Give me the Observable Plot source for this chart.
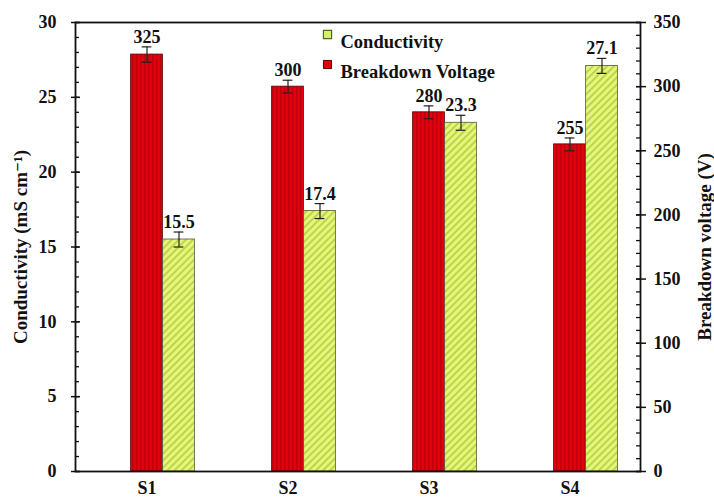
<!DOCTYPE html>
<html>
<head>
<meta charset="utf-8">
<script src="https://cdn.jsdelivr.net/npm/d3@7"></script>
<script src="https://cdn.jsdelivr.net/npm/@observablehq/plot@0.6"></script>
<style>
  body { margin: 0; background: #fff; }
  #chart svg { display: block; }
  #chart svg text { font-family: Liberation Serif, DejaVu Serif, serif; font-weight: bold; }
</style>
</head>
<body>
<div id="chart"></div>
<script>
// Samples and measured values
const samples = ["S1", "S2", "S3", "S4"];
const conductivity = [15.5, 17.4, 23.3, 27.1];        // mS cm⁻¹
const conductivityErr = [0.5, 0.5, 0.5, 0.5];
const voltage = [325, 300, 280, 255];                 // V
const voltageErr = [6, 5, 5, 5];
const conductivityTicks = [0, 5, 10, 15, 20, 25, 30];
const voltageTicks = [0, 50, 100, 150, 200, 250, 300, 350];

const W = 714, H = 501;
const mL = 75, mR = 74, mT = 22, mB = 30;
const band = (W - mL - mR) / samples.length;
const barW = 32;
const serif = "Liberation Serif, DejaVu Serif, serif";

// Breakdown voltage shares the plot with conductivity: 0–350 V maps onto 0–30
const ratio = 30 / 350;
const vy = v => v * ratio;

const rows = samples.map((s, i) => ({
  s, c: conductivity[i], ce: conductivityErr[i], v: voltage[i], ve: voltageErr[i]
}));

const minorLeft = d3.range(0, 31, 1);
const minorRight = d3.range(0, 351, 10).map(vy);

const txt = {fontFamily: serif, fontWeight: "bold"};

const svg = Plot.plot({
  width: W, height: H,
  marginLeft: mL, marginRight: mR, marginTop: mT, marginBottom: mB,
  style: {fontFamily: serif, fontSize: "18px", fontWeight: "bold", color: "#111", background: "#fff"},
  x: {domain: samples, type: "band", padding: 0, label: null},
  y: {domain: [0, 30], label: null},
  marks: [
    // breakdown voltage bars (red, vertical hatch)
    Plot.barY(rows, {
      x: "s", y: d => vy(d.v),
      fill: "url(#hatch-red)", stroke: "#5a0008", strokeWidth: 0.8,
      insetLeft: (band - barW) / 2, insetRight: (band - barW) / 2
    }),
    // conductivity bars (green, diagonal hatch)
    Plot.barY(rows, {
      x: "s", y: "c",
      fill: "url(#hatch-green)", stroke: "#55583a", strokeWidth: 0.8,
      insetLeft: band / 2 + barW / 2, insetRight: band / 2 - barW * 1.5
    }),
    // error bars
    Plot.ruleX(rows, {x: "s", y1: d => vy(d.v - d.ve), y2: d => vy(d.v + d.ve), stroke: "#222", strokeWidth: 1.2}),
    Plot.tickY(rows, {x: "s", y: d => vy(d.v + d.ve), stroke: "#222", strokeWidth: 1.2, insetLeft: band / 2 - 5, insetRight: band / 2 - 5}),
    Plot.tickY(rows, {x: "s", y: d => vy(d.v - d.ve), stroke: "#222", strokeWidth: 1.2, insetLeft: band / 2 - 5, insetRight: band / 2 - 5}),
    Plot.ruleX(rows, {x: "s", y1: d => d.c - d.ce, y2: d => d.c + d.ce, dx: barW, stroke: "#222", strokeWidth: 1.2}),
    Plot.tickY(rows, {x: "s", y: d => d.c + d.ce, dx: barW, stroke: "#222", strokeWidth: 1.2, insetLeft: band / 2 - 5, insetRight: band / 2 - 5}),
    Plot.tickY(rows, {x: "s", y: d => d.c - d.ce, dx: barW, stroke: "#222", strokeWidth: 1.2, insetLeft: band / 2 - 5, insetRight: band / 2 - 5}),
    // value labels
    Plot.text(rows, {x: "s", y: d => vy(d.v + d.ve), text: d => String(d.v), dy: -4, lineAnchor: "bottom", fontSize: 18, ...txt, fill: "#111"}),
    Plot.text(rows, {x: "s", y: d => d.c + d.ce, text: d => d.c.toFixed(1), dx: barW, dy: -4, lineAnchor: "bottom", fontSize: 18, ...txt, fill: "#111"}),
    // left axis: labels, major ticks crossing the spine, minor ticks inside
    Plot.axisY({anchor: "left", ticks: conductivityTicks, tickSize: 0, tickPadding: 19, label: null, fontSize: 18}),
    Plot.axisY({anchor: "left", ticks: conductivityTicks, tickSize: 9, dx: 5, tickFormat: () => "", label: null, strokeWidth: 1.5}),
    Plot.axisY({anchor: "left", ticks: minorLeft, tickSize: 4, dx: 4, tickFormat: () => "", label: null, strokeWidth: 1.3}),
    // right axis (breakdown voltage)
    Plot.axisY({anchor: "right", ticks: voltageTicks.map(vy), tickFormat: d => String(Math.round(d / ratio)), tickSize: 0, tickPadding: 13, label: null, fontSize: 18}),
    Plot.axisY({anchor: "right", ticks: voltageTicks.map(vy), tickSize: 10, dx: -5, tickFormat: () => "", label: null, strokeWidth: 1.5}),
    Plot.axisY({anchor: "right", ticks: minorRight, tickSize: 5, dx: -5, tickFormat: () => "", label: null, strokeWidth: 1.3}),
    // category axis
    Plot.axisX({tickSize: 0, tickPadding: 10, label: null, fontSize: 18}),
    Plot.frame({stroke: "#111", strokeWidth: 1.8}),
    // axis titles
    Plot.text(["Conductivity (mS cm⁻¹)"], {frameAnchor: "left", dx: -55, rotate: -90, textAnchor: "middle", fontSize: 19, ...txt, fill: "#111"}),
    Plot.text(["Breakdown voltage (V)"], {frameAnchor: "right", dx: 64, rotate: -90, textAnchor: "middle", fontSize: 19, ...txt, fill: "#111"}),
    // legend
    Plot.dot(["Conductivity"], {frameAnchor: "top-left", dx: 252, dy: 12, symbol: "square", r: 4.6, fill: "#d8ef6a", stroke: "#4d6b1a", strokeWidth: 1.2}),
    Plot.dot(["Breakdown Voltage"], {frameAnchor: "top-left", dx: 252, dy: 42, symbol: "square", r: 4.6, fill: "#e0000e", stroke: "#5a0008", strokeWidth: 1}),
    Plot.text(["Conductivity"], {frameAnchor: "top-left", dx: 265, dy: 12, textAnchor: "start", fontSize: 18.5, ...txt, fill: "#111"}),
    Plot.text(["Breakdown Voltage"], {frameAnchor: "top-left", dx: 265, dy: 42, textAnchor: "start", fontSize: 18.5, ...txt, fill: "#111"})
  ]
});

// hatch fills used by the bars
const defs = d3.select(svg).insert("defs", ":first-child");
const red = defs.append("pattern").attr("id", "hatch-red")
  .attr("patternUnits", "userSpaceOnUse").attr("width", 4).attr("height", 4);
red.append("rect").attr("width", 4).attr("height", 4).attr("fill", "#e2000d");
red.append("rect").attr("width", 1.5).attr("height", 4).attr("fill", "#bf000c");
const green = defs.append("pattern").attr("id", "hatch-green")
  .attr("patternUnits", "userSpaceOnUse").attr("width", 5).attr("height", 5)
  .attr("patternTransform", "rotate(45)");
green.append("rect").attr("width", 5).attr("height", 5).attr("fill", "#e6f57c");
green.append("rect").attr("width", 2).attr("height", 5).attr("fill", "#bcd648");

document.getElementById("chart").appendChild(svg);
</script>
</body>
</html>
